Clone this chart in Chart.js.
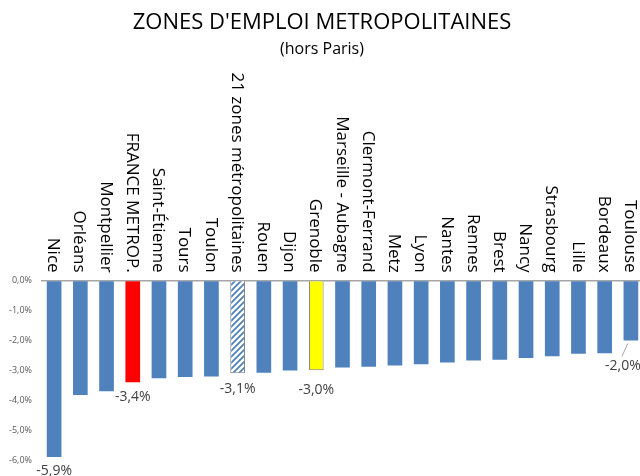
<!DOCTYPE html>
<html>
<head>
<meta charset="utf-8">
<script src="https://cdn.jsdelivr.net/npm/chart.js@4.4.1/dist/chart.umd.min.js"></script>
<style>
    html, body { margin: 0; padding: 0; background: #ffffff; overflow: hidden; }
    #wrap { width: 644px; height: 476px; }
</style>
</head>
<body>
<div id="wrap"><canvas id="chart_zones"></canvas></div>
<script>
// Categories, left to right
const zones = ['Nice', 'Orléans', 'Montpellier', 'FRANCE METROP.', 'Saint-Étienne', 'Tours', 'Toulon',
    '21 zones métropolitaines', 'Rouen', 'Dijon', 'Grenoble', 'Marseille - Aubagne', 'Clermont-Ferrand',
    'Metz', 'Lyon', 'Nantes', 'Rennes', 'Brest', 'Nancy', 'Strasbourg', 'Lille', 'Bordeaux', 'Toulouse'];

// Evolution de l'emploi (%)
const evolution = [-5.9, -3.83, -3.7, -3.4, -3.27, -3.22, -3.21, -3.1, -3.08, -3.01, -3.0, -2.91, -2.88,
    -2.84, -2.8, -2.74, -2.67, -2.65, -2.59, -2.53, -2.45, -2.43, -2.0];

// Bars that carry a value label
const labelled = [0, 3, 7, 10, 22];

const yTicks = [0, -1, -2, -3, -4, -5, -6];

const FONT = 'Open Sans';
const BLUE = '#4f81bd';

function fmtPct(v) {
    return v.toFixed(1).replace('.', ',') + '%';
}

// Diagonal hatch for the "21 zones" bar
function makeHatch() {
    const c = document.createElement('canvas');
    c.width = 6;
    c.height = 6;
    const g = c.getContext('2d');
    g.fillStyle = '#ffffff';
    g.fillRect(0, 0, 6, 6);
    g.strokeStyle = BLUE;
    g.lineWidth = 1.8;
    g.beginPath();
    g.moveTo(-1, 7); g.lineTo(7, -1);
    g.moveTo(-4, 4); g.lineTo(4, -4);
    g.moveTo(2, 10); g.lineTo(10, 2);
    g.stroke();
    return g.createPattern(c, 'repeat');
}

function getBackgroundColors() {
    const hatch = makeHatch();
    return zones.map(z => {
        if (z === 'FRANCE METROP.') return '#ff0000';
        if (z === 'Grenoble') return '#ffff00';
        if (z.startsWith('21 zones')) return hatch;
        return BLUE;
    });
}

function getBorderColors() {
    return zones.map(z => (z === 'Grenoble' || z.startsWith('21 zones')) ? '#7f7f7f' : BLUE);
}

function getBorderWidths() {
    return zones.map(z => (z === 'Grenoble' || z.startsWith('21 zones')) ? 1 : 0);
}

// Category names, drawn rotated above the zero line
const zoneLabels = {
    id: 'zoneLabels',
    afterDraw(chart) {
        const ctx = chart.ctx;
        const x = chart.scales.x;
        const top = chart.chartArea.top;
        ctx.save();
        ctx.fillStyle = '#000000';
        ctx.font = '17px "' + FONT + '"';
        ctx.textAlign = 'right';
        ctx.textBaseline = 'middle';
        zones.forEach((z, i) => {
            ctx.save();
            ctx.translate(x.getPixelForValue(i) - 1, top - 8);
            ctx.rotate(Math.PI / 2);
            ctx.fillText(z, 0, 0);
            ctx.restore();
        });
        ctx.restore();
    }
};

// Value labels under a few bars (offsets as placed in the original)
const labelOffsets = { 0: [0, 14], 3: [0, 15], 7: [0, 16], 10: [0, 20], 22: [-8, 26] };

const valueLabels = {
    id: 'valueLabels',
    afterDatasetsDraw(chart) {
        const ctx = chart.ctx;
        const meta = chart.getDatasetMeta(0);
        ctx.save();
        ctx.font = '14px "' + FONT + '"';
        ctx.fillStyle = '#404040';
        ctx.textAlign = 'center';
        ctx.textBaseline = 'middle';
        labelled.forEach(i => {
            const bar = meta.data[i];
            const off = labelOffsets[i];
            const lx = bar.x + off[0];
            const ly = bar.y + off[1];
            if (off[0] !== 0) {
                ctx.strokeStyle = '#a6a6a6';
                ctx.lineWidth = 1;
                ctx.beginPath();
                ctx.moveTo(bar.x - 3, bar.y + 3);
                ctx.lineTo(lx - 1, ly - 10);
                ctx.stroke();
            }
            ctx.fillText(fmtPct(evolution[i]), lx, ly);
        });
        ctx.restore();
    }
};

const ctx = document.getElementById('chart_zones').getContext('2d');
window.chart_zones = new Chart(ctx, {
    type: 'bar',
    data: {
        labels: zones,
        datasets: [{
            label: 'Evolution',
            data: evolution,
            backgroundColor: getBackgroundColors(),
            borderColor: getBorderColors(),
            borderWidth: getBorderWidths(),
            barPercentage: 0.56,
            categoryPercentage: 1.0
        }]
    },
    options: {
        responsive: true,
        maintainAspectRatio: false,
        animation: false,
        layout: {
            padding: { left: 0, right: 0, top: 0, bottom: 16 }
        },
        plugins: {
            legend: { display: false },
            tooltip: { enabled: false },
            title: {
                display: true,
                text: "ZONES D'EMPLOI METROPOLITAINES",
                color: '#000000',
                font: { size: 22, family: FONT, weight: 'normal' },
                padding: { top: 10, bottom: 3 }
            },
            subtitle: {
                display: true,
                text: '(hors Paris)',
                color: '#000000',
                font: { size: 16, family: FONT, weight: 'normal' },
                padding: { top: 0, bottom: 222 }
            }
        },
        scales: {
            x: {
                display: false
            },
            y: {
                min: -6,
                max: 0,
                afterFit: s => { s.width = 41; },
                afterBuildTicks: s => { s.ticks = yTicks.map(v => ({ value: v })); },
                border: { display: false },
                grid: {
                    drawTicks: false,
                    color: c => (c.tick && c.tick.value === 0) ? '#a6a6a6' : 'rgba(0,0,0,0)',
                    lineWidth: 1.5
                },
                ticks: {
                    callback: v => fmtPct(v),
                    color: '#595959',
                    padding: 9,
                    font: { size: 9, family: FONT }
                }
            }
        }
    },
    plugins: [zoneLabels, valueLabels]
});
</script>
</body>
</html>
